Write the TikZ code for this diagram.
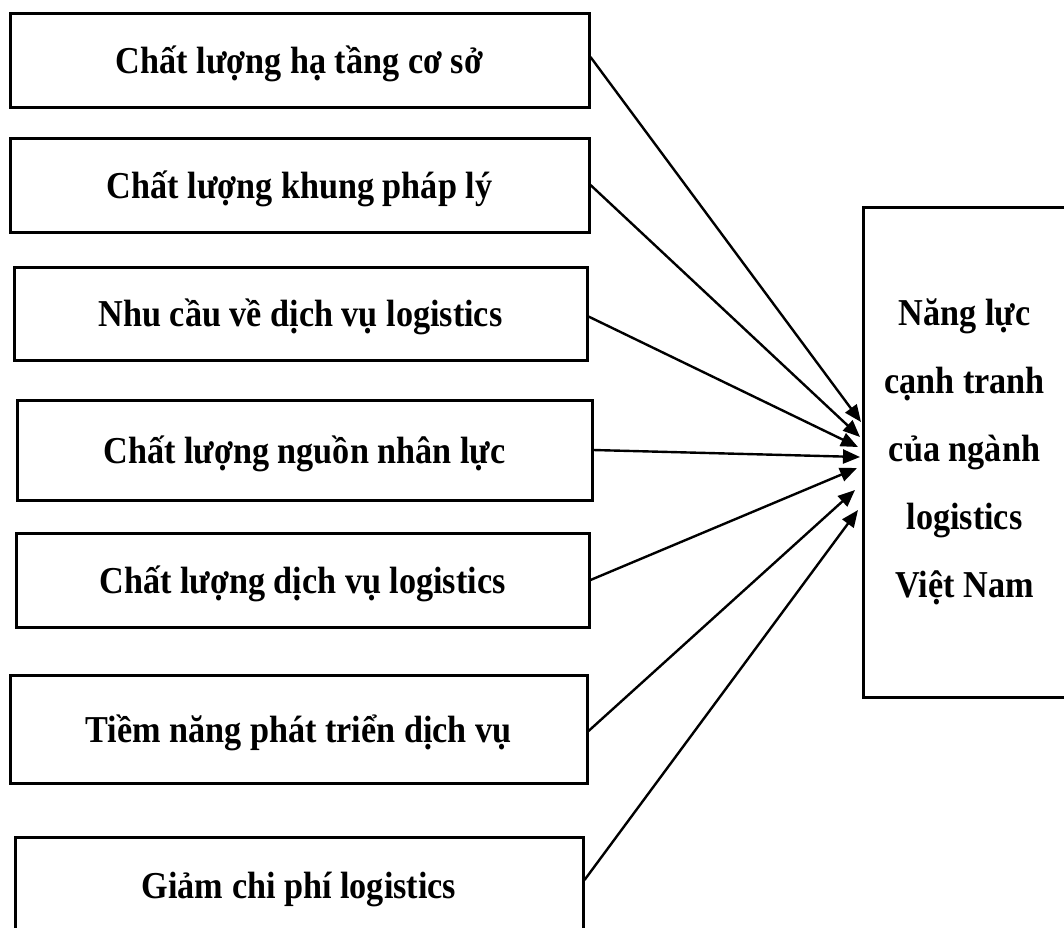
\documentclass[tikz,border=0pt]{standalone}
\usepackage{fontspec}
\setmainfont{Liberation Serif}[FakeStretch=0.9]
\usetikzlibrary{arrows.meta}
\begin{document}
\begin{tikzpicture}[x=1pt,y=-1pt,
  factor/.style={draw, line width=3pt, inner sep=0pt,
    text height=27pt, text depth=1pt,
    font=\bfseries\fontsize{38}{46}\selectfont},
  target/.style={draw, line width=3pt, inner sep=0pt, align=center,
    font=\bfseries\fontsize{38}{68}\selectfont},
  link/.style={line width=2.4pt, -{Triangle[length=17pt,width=14pt]}}]
\useasboundingbox (0,0) rectangle (1064,927);
\clip (0,0) rectangle (1064,927);

% factor boxes on the left
\node[factor, minimum width=579pt, minimum height=94pt]  (b1) at (299.5,60)  {Chất lượng hạ tầng cơ sở};
\node[factor, minimum width=579pt, minimum height=94pt]  (b2) at (299.5,185) {Chất lượng khung pháp lý};
\node[factor, minimum width=573pt, minimum height=93pt]  (b3) at (300.5,313.5) {Nhu cầu về dịch vụ logistics};
\node[factor, minimum width=575pt, minimum height=100pt] (b4) at (304.5,450) {Chất lượng nguồn nhân lực};
\node[factor, minimum width=573pt, minimum height=94pt]  (b5) at (302.5,580) {Chất lượng dịch vụ logistics};
\node[factor, minimum width=577pt, minimum height=108pt] (b6) at (298.5,729) {Tiềm năng phát triển dịch vụ};
\node[factor, minimum width=568pt, minimum height=96pt]  (b7) at (299,885)   {Giảm chi phí logistics};

% outcome box on the right
\node[target, minimum width=203pt, minimum height=490pt] (r) at (964.5,452)
  {Năng lực\\cạnh tranh\\của ngành\\logistics\\Việt Nam};

% arrow tips along the left side of the outcome box
\coordinate (t1) at (861,422);
\coordinate (t2) at (860,437);
\coordinate (t3) at (858,447);
\coordinate (t4) at (860,457);
\coordinate (t5) at (857,468);
\coordinate (t6) at (855,490);
\coordinate (t7) at (858,510);

\draw[link] ([yshift=3pt]b1.east) -- (t1);
\draw[link] (b2.east) -- (t2);
\draw[link] ([yshift=-3pt]b3.east) -- (t3);
\draw[link] (b4.east) -- (t4);
\draw[link] (b5.east) -- (t5);
\draw[link] ([yshift=-2pt]b6.east) -- (t6);
\draw[link] ([yshift=5pt]b7.east) -- (t7);
\end{tikzpicture}
\end{document}
